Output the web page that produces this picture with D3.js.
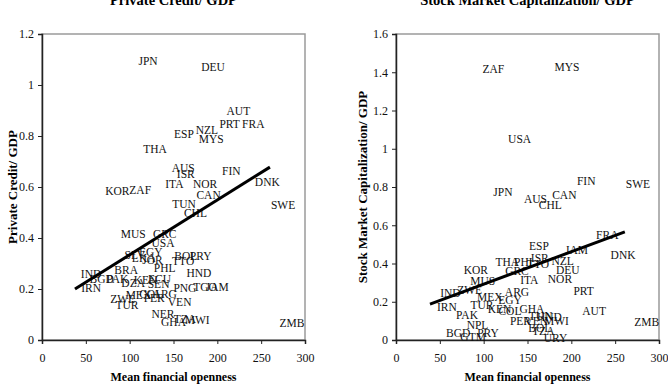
<!DOCTYPE html>
<html lang="en">
<head>
<meta charset="UTF-8">
<title>Financial openness scatter</title>
<script src="https://d3js.org/d3.v7.min.js"></script>
<style>
  body { margin: 0; background: #fff; }
  svg { display: block; font-family: "Liberation Serif", "Times New Roman", serif; }
  .tick text { font-size: 12px; }
  .lbl { font-size: 11.5px; fill: #111; }
  .title { font-size: 14.5px; font-weight: bold; }
  .axtitle { font-size: 12px; font-weight: bold; }
  .ytitle { font-size: 13px; font-weight: bold; }
</style>
</head>
<body>
<svg id="chart" width="668" height="385"></svg>
<script>
// Private credit / GDP vs mean financial openness
const pcCodes = ["JPN","DEU","AUT","PRT","FRA","ESP","NZL","MYS","THA","AUS","ISR","ITA","NOR","FIN","DNK",
  "CAN","SWE","TUN","CHL","KOR","ZAF","MUS","GRC","USA","SLV","EGY","LKA","JOR","BOL","PRY","TTO","PHL","HND",
  "BRA","IND","BGD","PAK","DZA","KEN","ECU","SEN","IRN","PNG","TGO","JAM","MEX","COL","ARG","PER","ZWE","TUR",
  "VEN","NER","GHA","TZA","MWI","ZMB"];
const pcOpen = [121,195,224,214,241,162,188,193,129,161,164,151,186,216,257,
  190,275,162,175,86,112,104,140,138,106,124,116,126,164,181,161,140,179,
  96,56,68,86,104,118,134,133,56,163,186,200,110,124,140,128,92,97,
  157,138,150,163,177,285];
const pcCredit = [1.095,1.07,0.90,0.847,0.847,0.808,0.824,0.788,0.75,0.675,0.651,0.612,0.612,0.663,0.62,
  0.569,0.529,0.533,0.498,0.584,0.588,0.416,0.416,0.38,0.335,0.345,0.32,0.315,0.33,0.33,0.31,0.282,0.263,
  0.275,0.259,0.239,0.239,0.225,0.235,0.239,0.22,0.204,0.204,0.208,0.208,0.175,0.18,0.18,0.165,0.16,0.137,
  0.149,0.102,0.071,0.082,0.078,0.067];
const pcFitOpen = [37.6, 260];
const pcFitVal = [0.2, 0.678];

// Stock market capitalization / GDP vs mean financial openness
const smCodes = ["ZAF","MYS","USA","FIN","SWE","JPN","AUS","CAN","CHL","ESP","JAM","FRA","DNK","ISR","NZL",
  "THA","PHL","TTO","GRC","DEU","ITA","NOR","KOR","MUS","ARG","PRT","IND","ZWE","MEX","EGY","IRN","TUR",
  "GHA","AUT","PAK","TUN","ZMB","NPL","BGD","PRY","GTM","URY","BOL","TZA","KEN","COL","PER","VEN","HND","MWI"];
const smOpen = [111,195,141,217,276,122,159,192,176,163,206,241,259,164,190,
  127,147,162,138,196,152,187,91,99,138,214,62,84,107,130,58,98,
  155,226,81,165,286,93,71,105,88,182,164,168,118,130,142,160,175,183];
const smCap = [1.417,1.428,1.051,0.831,0.816,0.774,0.737,0.758,0.706,0.492,0.471,0.549,0.444,0.429,0.413,
  0.408,0.408,0.395,0.361,0.366,0.314,0.319,0.366,0.309,0.251,0.256,0.246,0.261,0.225,0.21,0.173,0.183,
  0.162,0.152,0.131,0.125,0.094,0.078,0.037,0.037,0.016,0.01,0.063,0.047,0.16,0.15,0.1,0.1,0.12,0.1];
const smFitOpen = [38.8, 261];
const smFitVal = [0.188, 0.565];

const xTicks = [0, 50, 100, 150, 200, 250, 300];

const svg = d3.select("#chart");

function panel(opt) {
  const x = d3.scaleLinear().domain([0, 300]).range([opt.left, opt.right]);
  const y = d3.scaleLinear().domain([0, opt.ymax]).range([340, 34]);
  const g = svg.append("g");

  // plot area frame
  g.append("rect")
    .attr("x", opt.left).attr("y", 34)
    .attr("width", opt.right - opt.left).attr("height", 306)
    .attr("fill", "none").attr("stroke", "#9a9a9a").attr("stroke-width", 1.5);

  const xAxis = g.append("g").attr("transform", "translate(0,340)")
    .call(d3.axisBottom(x).tickValues(xTicks).tickSize(4).tickPadding(9).tickFormat(d3.format("d")));
  const yAxis = g.append("g").attr("transform", `translate(${opt.left},0)`)
    .call(d3.axisLeft(y).tickValues(opt.yTicks).tickSize(4).tickPadding(4).tickFormat(d => d3.format("~g")(d)));
  [xAxis, yAxis].forEach(a => {
    a.select(".domain").attr("stroke", "#222").attr("stroke-width", 1.5);
    a.selectAll(".tick line").attr("stroke", "#222");
    a.selectAll(".tick text").attr("fill", "#111").style("font-family", "Liberation Serif");
  });

  g.selectAll("text.lbl").data(opt.codes).join("text")
    .attr("class", "lbl")
    .attr("x", (d, i) => x(opt.xs[i]))
    .attr("y", (d, i) => y(opt.ys[i]))
    .attr("text-anchor", "middle")
    .attr("dominant-baseline", "central")
    .text(d => d);

  g.append("line")
    .attr("x1", x(opt.fitX[0])).attr("y1", y(opt.fitY[0]))
    .attr("x2", x(opt.fitX[1])).attr("y2", y(opt.fitY[1]))
    .attr("stroke", "#000").attr("stroke-width", 3);

  const cx = (opt.left + opt.right) / 2;
  g.append("text").attr("class", "title").attr("x", cx).attr("y", 5)
    .attr("text-anchor", "middle").text(opt.title);
  g.append("text").attr("class", "axtitle").attr("x", cx).attr("y", 381)
    .attr("text-anchor", "middle").text("Mean financial openness");
  g.append("text").attr("class", "ytitle")
    .attr("transform", `translate(${opt.ytx},187) rotate(-90)`)
    .attr("text-anchor", "middle").attr("dominant-baseline", "central")
    .text(opt.ytitle);
}

panel({
  left: 42, right: 305, ymax: 1.2, yTicks: [0, 0.2, 0.4, 0.6, 0.8, 1, 1.2],
  codes: pcCodes, xs: pcOpen, ys: pcCredit, fitX: pcFitOpen, fitY: pcFitVal,
  title: "Private Credit/ GDP", ytitle: "Private Credit/ GDP", ytx: 12
});
panel({
  left: 396, right: 659, ymax: 1.6, yTicks: [0, 0.2, 0.4, 0.6, 0.8, 1, 1.2, 1.4, 1.6],
  codes: smCodes, xs: smOpen, ys: smCap, fitX: smFitOpen, fitY: smFitVal,
  title: "Stock Market Capitalization/ GDP", ytitle: "Stock Market Capitalization/ GDP", ytx: 362
});
</script>
</body>
</html>
